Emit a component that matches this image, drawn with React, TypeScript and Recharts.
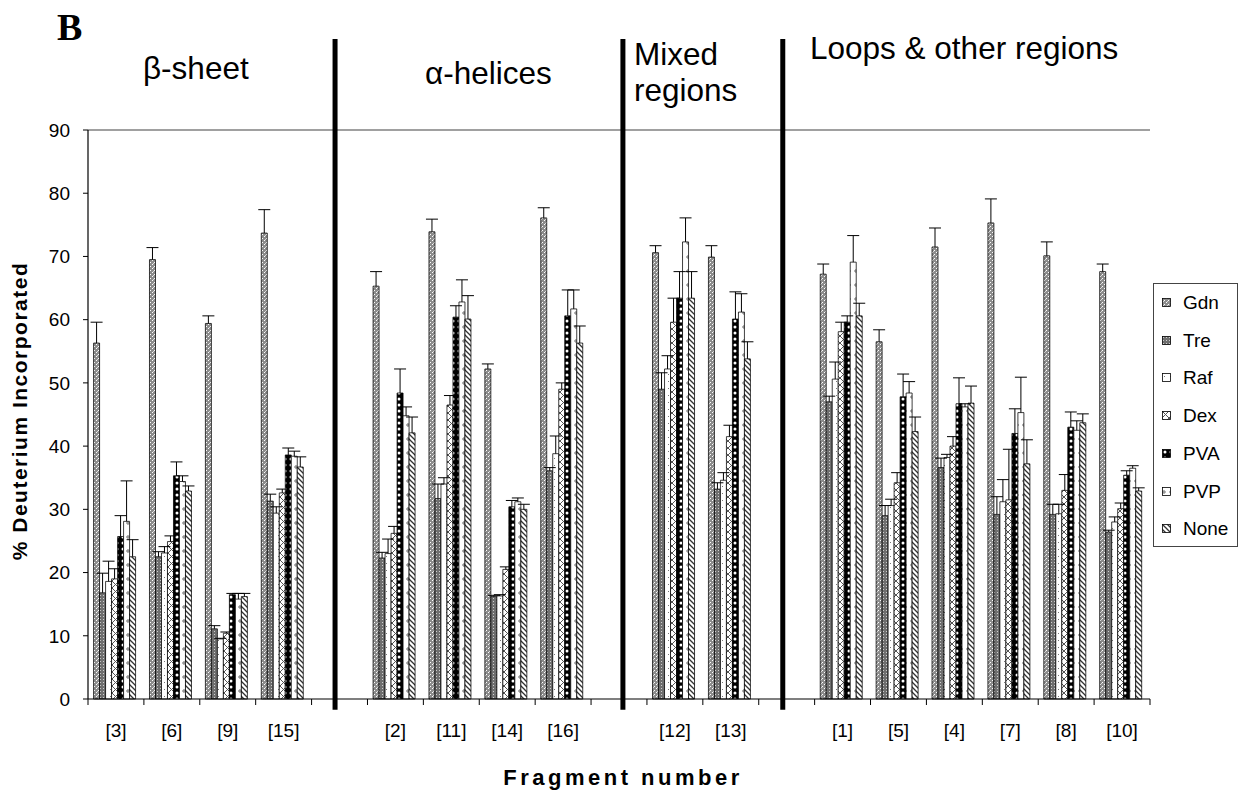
import React from 'react';
import { BarChart, Bar, XAxis, YAxis, ReferenceLine } from 'recharts';

// Fragment slots along the x axis; null marks an empty spacer slot between regions
const fragments: (string | null)[] = [
  '[3]', '[6]', '[9]', '[15]', null,
  '[2]', '[11]', '[14]', '[16]', null,
  '[12]', '[13]', null,
  '[1]', '[5]', '[4]', '[7]', '[8]', '[10]',
];

// % deuterium incorporated per excipient, with upper error (SD)
const gdn = [56.3, 69.5, 59.4, 73.7, null, 65.3, 73.9, 52.2, 76.1, null, 70.6, 69.9, null, 67.2, 56.5, 71.5, 75.3, 70.1, 67.6];
const gdnErr = [3.3, 1.9, 1.2, 3.7, null, 2.3, 2.0, 0.8, 1.6, null, 1.1, 1.8, null, 1.6, 1.9, 3.0, 3.8, 2.2, 1.2];
const tre = [16.8, 22.5, 11.1, 31.3, null, 22.3, 31.7, 16.2, 36.1, null, 49.0, 33.2, null, 47.0, 29.0, 36.6, 29.2, 29.2, 26.4];
const treErr = [3.1, 0.8, 0.5, 1.1, null, 0.9, 2.3, 0.2, 0.5, null, 2.6, 1.0, null, 0.9, 1.6, 1.5, 2.8, 1.6, 0.3];
const raf = [18.6, 23.1, 9.5, 29.4, null, 23.0, 34.0, 16.3, 38.8, null, 52.2, 34.6, null, 50.6, 30.6, 38.2, 31.2, 29.3, 28.0];
const rafErr = [3.2, 1.0, 0.1, 1.0, null, 2.3, 1.0, 0.2, 2.8, null, 2.1, 1.2, null, 2.7, 1.0, 0.5, 3.5, 1.5, 0.8];
const dex = [19.0, 24.9, 10.4, 32.6, null, 26.2, 46.5, 20.5, 49.0, null, 59.6, 41.5, null, 58.1, 34.2, 40.0, 31.5, 33.0, 30.1];
const dexErr = [1.6, 0.9, 0.2, 0.6, null, 1.1, 1.5, 0.4, 1.0, null, 3.8, 1.8, null, 1.5, 1.6, 1.5, 8.0, 2.5, 0.9];
const pva = [25.7, 35.3, 16.5, 38.6, null, 48.4, 60.4, 30.4, 60.6, null, 63.4, 60.1, null, 59.6, 47.8, 46.7, 42.0, 43.0, 35.4];
const pvaErr = [3.3, 2.2, 0.2, 1.1, null, 3.8, 1.8, 1.0, 4.1, null, 4.2, 4.3, null, 1.0, 3.6, 4.1, 3.9, 2.4, 0.7];
const pvp = [28.1, 34.4, 15.8, 38.4, null, 44.8, 62.8, 31.2, 61.7, null, 72.3, 61.2, null, 69.1, 48.4, 46.2, 45.3, 42.5, 36.5];
const pvpErr = [6.4, 0.9, 0.9, 0.8, null, 1.4, 3.5, 0.6, 3.0, null, 3.8, 2.9, null, 4.2, 1.8, 0.5, 5.6, 1.5, 0.4];
const none = [22.5, 32.9, 16.2, 36.7, null, 42.1, 60.1, 30.0, 56.3, null, 63.4, 53.8, null, 60.6, 42.3, 46.8, 37.2, 43.7, 32.9];
const noneErr = [2.7, 0.8, 0.5, 1.6, null, 2.5, 3.7, 0.8, 2.7, null, 4.2, 2.7, null, 2.0, 2.3, 2.7, 3.8, 1.4, 0.5];

const yTicks = [0, 10, 20, 30, 40, 50, 60, 70, 80, 90];

// Heavy region dividers, in slot units (slot centres sit on whole numbers)
const dividers = [3.92, 9.07, 11.93];

const series = [
  { key: 'Gdn', values: gdn, errors: gdnErr },
  { key: 'Tre', values: tre, errors: treErr },
  { key: 'Raf', values: raf, errors: rafErr },
  { key: 'Dex', values: dex, errors: dexErr },
  { key: 'PVA', values: pva, errors: pvaErr },
  { key: 'PVP', values: pvp, errors: pvpErr },
  { key: 'None', values: none, errors: noneErr },
];

const rows = fragments.map((f, i) => {
  const row: Record<string, any> = { slot: i };
  series.forEach((s) => {
    row[s.key] = s.values[i];
    row[s.key + 'Err'] = s.errors[i];
  });
  return row;
});

const FONT = '"Liberation Sans", Arial, Helvetica, sans-serif';

// Hatch fills for the seven excipient series
const Patterns = () => (
  <svg width={0} height={0} style={{ position: 'absolute' }}>
    <defs>
      <pattern id="pGdn" width="4" height="4" patternUnits="userSpaceOnUse">
        <rect width="4" height="4" fill="#8c8c8c" />
        <rect x="0" y="0" width="1" height="1" fill="#fff" />
        <rect x="2" y="2" width="1" height="1" fill="#fff" />
        <rect x="1" y="3" width="1" height="1" fill="#d8d8d8" />
      </pattern>
      <pattern id="pTre" width="3" height="3" patternUnits="userSpaceOnUse">
        <rect width="3" height="3" fill="#6f6f6f" />
        <rect x="1" y="1" width="1" height="1" fill="#cfcfcf" />
      </pattern>
      <pattern id="pRaf" width="6" height="7" patternUnits="userSpaceOnUse">
        <rect width="6" height="7" fill="#fff" />
        <rect x="2" y="3" width="1" height="1" fill="#777" />
      </pattern>
      <pattern id="pDex" width="7" height="14" patternUnits="userSpaceOnUse">
        <rect width="7" height="14" fill="#fff" />
        <path d="M0,0 L7,7 L0,14 M7,0 L0,7 L7,14" stroke="#555" strokeWidth="1" fill="none" />
      </pattern>
      <pattern id="pPVA" width="6" height="6" patternUnits="userSpaceOnUse">
        <rect width="6" height="6" fill="#000" />
        <circle cx="3" cy="3" r="1.5" fill="#fff" />
      </pattern>
      <pattern id="pPVP" width="7" height="14" patternUnits="userSpaceOnUse">
        <rect width="7" height="14" fill="#fff" />
        <circle cx="2" cy="5" r="1.2" fill="none" stroke="#555" strokeWidth="0.9" />
      </pattern>
      <pattern id="pNone" width="5" height="5" patternUnits="userSpaceOnUse">
        <rect width="5" height="5" fill="#fff" />
        <path d="M0,0 L5,5 M-1,4 L1,6 M4,-1 L6,1" stroke="#333" strokeWidth="1.3" />
      </pattern>
    </defs>
  </svg>
);

// Category tick: label at the band centre, tick mark at the band's left edge
const TICK_SIZE = 6;
const TICK_MARGIN = 19;
const FragTick = (p: any) => {
  const { x, y, payload, index } = p;
  const half = payload && payload.offset ? payload.offset : 0;
  const axisY = y - TICK_SIZE - TICK_MARGIN;
  const label = fragments[payload.value] ?? '';
  const last = index === fragments.length - 1;
  return (
    <g>
      <line x1={x - half} x2={x - half} y1={axisY} y2={axisY + TICK_SIZE} stroke="#000" />
      {last && <line x1={x + half} x2={x + half} y1={axisY} y2={axisY + TICK_SIZE} stroke="#000" />}
      {label && (
        <text x={x} y={y} dy="0.71em" textAnchor="middle" fontSize={19} fill="#000" fontFamily={FONT}>
          {label}
        </text>
      )}
    </g>
  );
};

// Upper error whisker drawn from the bar geometry supplied by the chart
const errorShape = (key: string) => (p: any) => {
  const { x, y, width, height, payload } = p;
  const v = payload ? payload[key] : null;
  const e = payload ? payload[key + 'Err'] : null;
  if (v == null || !e || !height) return <g />;
  const top = y - (e * height) / v;
  const cx = x + width / 2;
  return (
    <g>
      <line x1={cx} y1={y} x2={cx} y2={top} stroke="#000" strokeWidth={1} />
      <line x1={cx - 6} y1={top} x2={cx + 6} y2={top} stroke="#000" strokeWidth={1} />
    </g>
  );
};

const Legend = () => (
  <div
    style={{
      position: 'absolute',
      left: 1153,
      top: 283,
      width: 85,
      height: 264,
      border: '1px solid #444',
      boxSizing: 'border-box',
      background: '#fff',
      fontFamily: FONT,
    }}
  >
    {series.map((s, i) => (
      <div
        key={s.key}
        style={{
          position: 'absolute',
          left: 8,
          top: 4 + i * 37.7,
          height: 30,
          display: 'flex',
          alignItems: 'center',
        }}
      >
        <svg width={10} height={10} style={{ marginRight: 11 }}>
          <rect x={0.5} y={0.5} width={8} height={8} fill={`url(#p${s.key})`} stroke="#000" strokeWidth={0.8} />
        </svg>
        <span style={{ fontSize: 19, color: '#000', lineHeight: '30px' }}>{s.key}</span>
      </div>
    ))}
  </div>
);

const REGION_SIZE = 31.5;

const Annotations = () => (
  <svg
    width={1242}
    height={794}
    style={{ position: 'absolute', left: 0, top: 0, pointerEvents: 'none' }}
  >
    <text x={57} y={40} fontFamily='"Liberation Serif", "Times New Roman", serif' fontWeight="bold" fontSize={38}>
      B
    </text>
    <text x={143} y={79} fontFamily={FONT} fontSize={REGION_SIZE}>
      β-sheet
    </text>
    <text x={425} y={84} fontFamily={FONT} fontSize={REGION_SIZE}>
      α-helices
    </text>
    <text x={634} y={65} fontFamily={FONT} fontSize={REGION_SIZE}>
      Mixed
    </text>
    <text x={634} y={101} fontFamily={FONT} fontSize={REGION_SIZE}>
      regions
    </text>
    <text x={810} y={59} fontFamily={FONT} fontSize={REGION_SIZE}>
      Loops &amp; other regions
    </text>
    <text
      x={0}
      y={0}
      transform="translate(27,411) rotate(-90)"
      textAnchor="middle"
      fontFamily={FONT}
      fontWeight="bold"
      fontSize={21}
      letterSpacing={1.5}
    >
      % Deuterium Incorporated
    </text>
    <text x={623} y={785} textAnchor="middle" fontFamily={FONT} fontWeight="bold" fontSize={22} letterSpacing={3.5}>
      Fragment number
    </text>
  </svg>
);

export default function App() {
  return (
    <div
      style={{
        position: 'absolute',
        left: 0,
        top: 0,
        width: 1242,
        height: 794,
        background: '#fff',
        fontFamily: FONT,
      }}
    >
      <Patterns />
      <BarChart
        width={1242}
        height={794}
        data={rows}
        margin={{ top: 130, right: 92, bottom: 45, left: 28 }}
        barCategoryGap="10%"
        barGap={0}
      >
        <XAxis
          xAxisId="main"
          dataKey="slot"
          type="category"
          interval={0}
          tickLine={false}
          tickSize={TICK_SIZE}
          tickMargin={TICK_MARGIN}
          axisLine={{ stroke: '#000', strokeWidth: 1.2 }}
          tick={<FragTick />}
          height={50}
        />
        <XAxis xAxisId="whisker" dataKey="slot" type="category" hide height={0} />
        <XAxis
          xAxisId="zdivider"
          dataKey="slot"
          type="number"
          domain={[-0.5, 18.5]}
          allowDataOverflow
          hide
          height={0}
        />
        <YAxis
          domain={[0, 90]}
          ticks={yTicks}
          interval={0}
          width={60}
          tickSize={5}
          tickMargin={13}
          axisLine={{ stroke: '#000', strokeWidth: 1.2 }}
          tickLine={{ stroke: '#000' }}
          tick={{ fontSize: 19, fill: '#000', fontFamily: FONT }}
        />
        <YAxis
          yAxisId="frame"
          orientation="right"
          domain={[0, 90]}
          width={0}
          tick={false}
          tickLine={false}
          axisLine={{ stroke: '#808080', strokeWidth: 1.5 }}
        />
        <ReferenceLine xAxisId="main" y={90} stroke="#808080" strokeWidth={1.5} />
        {series.map((s) => (
          <Bar
            key={s.key}
            xAxisId="main"
            dataKey={s.key}
            fill={`url(#p${s.key})`}
            stroke="#000"
            strokeWidth={0.75}
            isAnimationActive={false}
          />
        ))}
        {series.map((s) => (
          <Bar
            key={s.key + 'Err'}
            xAxisId="whisker"
            dataKey={s.key}
            fill="none"
            legendType="none"
            isAnimationActive={false}
            shape={errorShape(s.key)}
          />
        ))}
        {dividers.map((d) => (
          <ReferenceLine
            key={d}
            xAxisId="zdivider"
            ifOverflow="visible"
            segment={[
              { x: d, y: -1.7 },
              { x: d, y: 104.4 },
            ]}
            stroke="#000"
            strokeWidth={5}
          />
        ))}
      </BarChart>
      <Legend />
      <Annotations />
    </div>
  );
}
